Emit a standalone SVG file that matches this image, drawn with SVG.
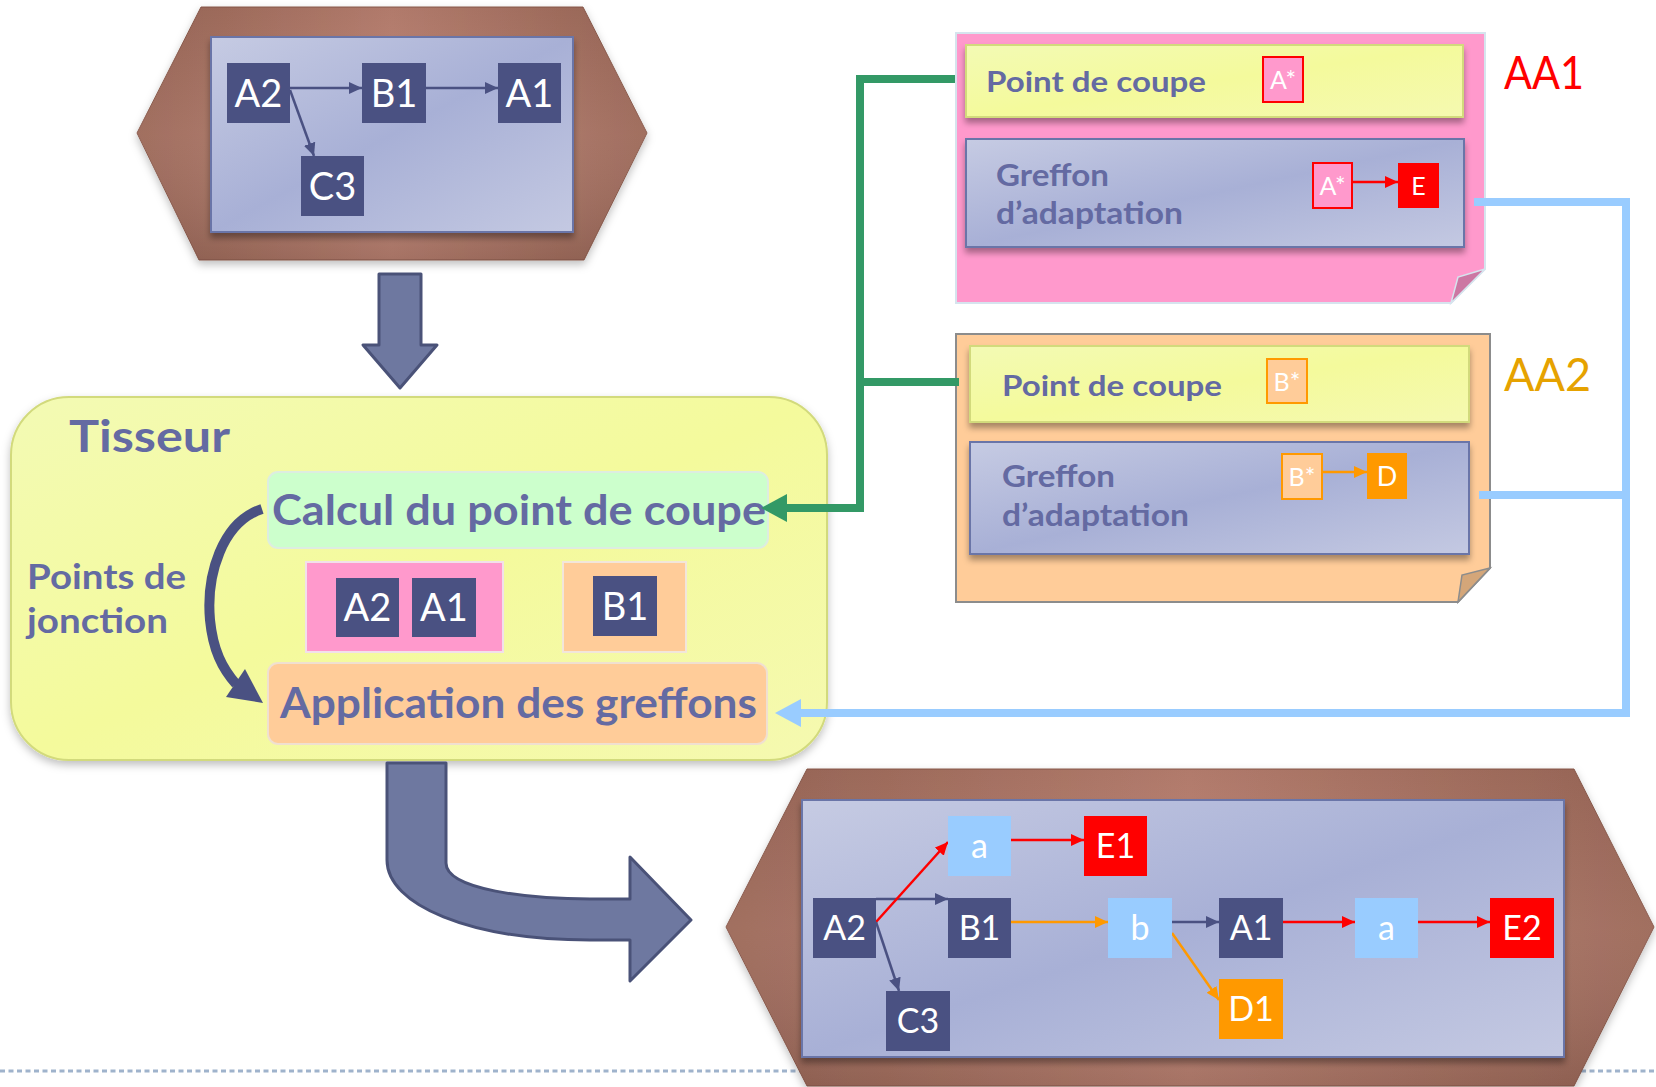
<svg xmlns="http://www.w3.org/2000/svg" width="1656" height="1087" viewBox="0 0 1656 1087">
  <defs>
    <linearGradient id="hexFill" x1="0" y1="0" x2="1" y2="0">
      <stop offset="0" stop-color="#9C6858"/>
      <stop offset="0.5" stop-color="#BC8272"/>
      <stop offset="1" stop-color="#9C6858"/>
    </linearGradient>
    <linearGradient id="hexShade" x1="0" y1="0" x2="0" y2="1">
      <stop offset="0" stop-color="#000" stop-opacity="0.06"/>
      <stop offset="0.5" stop-color="#fff" stop-opacity="0.05"/>
      <stop offset="1" stop-color="#000" stop-opacity="0.12"/>
    </linearGradient>
    <linearGradient id="panelFill" x1="0" y1="0" x2="1" y2="1">
      <stop offset="0" stop-color="#C6CBE3"/>
      <stop offset="0.5" stop-color="#A8B0D6"/>
      <stop offset="1" stop-color="#C4C9E2"/>
    </linearGradient>
    <linearGradient id="yellowFill" x1="0" y1="0" x2="1" y2="1">
      <stop offset="0" stop-color="#F3FAB4"/>
      <stop offset="0.5" stop-color="#F4FA9C"/>
      <stop offset="1" stop-color="#F5F9B0"/>
    </linearGradient>
    <filter id="shadow" x="-10%" y="-10%" width="120%" height="130%">
      <feDropShadow dx="0" dy="5" stdDeviation="3" flood-color="#000" flood-opacity="0.35"/>
    </filter>
    <filter id="softShadow" x="-10%" y="-10%" width="120%" height="130%">
      <feDropShadow dx="0" dy="4" stdDeviation="4" flood-color="#000" flood-opacity="0.25"/>
    </filter>
    <marker id="arrDark" markerUnits="userSpaceOnUse" markerWidth="14" markerHeight="14" refX="13" refY="7" orient="auto">
      <path d="M0,1 L13,7 L0,13 z" fill="#4A5182"/>
    </marker>
    <marker id="arrRed" markerUnits="userSpaceOnUse" markerWidth="14" markerHeight="14" refX="13" refY="7" orient="auto">
      <path d="M0,1 L13,7 L0,13 z" fill="#FF0000"/>
    </marker>
    <marker id="arrOrange" markerUnits="userSpaceOnUse" markerWidth="14" markerHeight="14" refX="13" refY="7" orient="auto">
      <path d="M0,1 L13,7 L0,13 z" fill="#FF9900"/>
    </marker>
  </defs>
  <style>
    .hex { fill: url(#hexFill); stroke: #8A5A4C; stroke-width: 1; }
    .hexshade { fill: url(#hexShade); }
    .panel { fill: url(#panelFill); stroke: #6A74A8; stroke-width: 2; }
    .nd { fill: #4A5182; }
    .lb { fill: #99CCFF; }
    .rd { fill: #FF0000; }
    .og { fill: #FF9900; }
    .nt { font-family: Lato, "Liberation Sans", sans-serif; fill: #fff; text-anchor: middle; }
    .big { font-size: 38px; }
    .small { font-size: 34px; }
    .lbl { font-family: Lato, "Liberation Sans", sans-serif; font-weight: bold; fill: #646AA2; }
    .edge { fill: none; stroke-width: 2.5; }
    .dk { stroke: #4A5182; marker-end: url(#arrDark); }
    .re { stroke: #FF0000; marker-end: url(#arrRed); }
    .or { stroke: #FF9900; marker-end: url(#arrOrange); }
    .ybox { fill: url(#yellowFill); stroke: #D2DA7C; stroke-width: 2; filter: url(#shadow); }
    .gbox { fill: url(#panelFill); stroke: #6A74A8; stroke-width: 2; filter: url(#shadow); }
    .fat { fill: #6E78A0; stroke: #4A5278; stroke-width: 3; stroke-linejoin: round; }
  </style>

  <rect width="1656" height="1087" fill="#fff"/>

  <!-- dotted footer rule -->
  <line x1="0" y1="1071" x2="1656" y2="1071" stroke="#9FB3CC" stroke-width="3" stroke-dasharray="5 3.5"/>

  <!-- input program -->
  <g id="program-in">
    <polygon class="hex" points="201,7 583,7 647,133 584,260 199,260 137,133" filter="url(#softShadow)"/>
    <polygon class="hexshade" points="201,7 583,7 647,133 584,260 199,260 137,133"/>
    <rect class="panel" x="211" y="37" width="362" height="195" filter="url(#shadow)"/>
    <rect class="nd" x="227" y="63" width="63" height="60"/>
    <text class="nt big" x="258.5" y="106.5">A2</text>
    <rect class="nd" x="362" y="63" width="64" height="60"/>
    <text class="nt big" x="394" y="106.5">B1</text>
    <rect class="nd" x="498" y="63" width="63" height="60"/>
    <text class="nt big" x="529.5" y="106.5">A1</text>
    <rect class="nd" x="301" y="156" width="63" height="60"/>
    <text class="nt big" x="332.5" y="199.5">C3</text>
    <line class="edge dk" x1="290" y1="88" x2="362" y2="88"/>
    <line class="edge dk" x1="426" y1="88" x2="498" y2="88"/>
    <line class="edge dk" x1="290" y1="90" x2="314" y2="156"/>
  </g>

  <!-- arrow into the weaver -->
  <g id="down-arrow">
    <polygon class="fat" points="379,274 421,274 421,345 437,345 400,388 363,345 379,345"/>
  </g>

  <!-- weaver -->
  <g id="tisseur">
    <rect x="11" y="397" width="816" height="363" rx="58" fill="url(#yellowFill)" stroke="#D2DA7C" stroke-width="2" filter="url(#softShadow)"/>
    <text class="lbl" x="69" y="452" font-size="44" textLength="161" lengthAdjust="spacingAndGlyphs">Tisseur</text>
    <text class="lbl" x="27" y="589" font-size="34" textLength="159" lengthAdjust="spacingAndGlyphs">Points de</text>
    <text class="lbl" x="27" y="633" font-size="34" textLength="141" lengthAdjust="spacingAndGlyphs">jonction</text>
  </g>

  <g id="calcul">
    <rect x="268" y="472" width="500" height="76" rx="10" fill="#CCFFCC" stroke="#DDEDE0" stroke-width="2"/>
    <text class="lbl" x="272" y="525" font-size="42" textLength="494" lengthAdjust="spacingAndGlyphs">Calcul du point de coupe</text>
  </g>

  <g id="jp-a">
    <rect x="306" y="562" width="197" height="90" fill="#FF99CC" stroke="#F2E0EA" stroke-width="2"/>
    <rect class="nd" x="336" y="578" width="63" height="59"/>
    <text class="nt big" x="367.5" y="621">A2</text>
    <rect class="nd" x="412" y="578" width="64" height="59"/>
    <text class="nt big" x="444" y="621">A1</text>
  </g>

  <g id="jp-b">
    <rect x="563" y="562" width="123" height="90" fill="#FFCC99" stroke="#F2E6DA" stroke-width="2"/>
    <rect class="nd" x="593" y="576" width="64" height="60"/>
    <text class="nt big" x="625" y="620">B1</text>
  </g>

  <g id="application">
    <rect x="268" y="663" width="499" height="81" rx="10" fill="#FFCC99" stroke="#F0E0D0" stroke-width="2"/>
    <text class="lbl" x="280" y="718" font-size="42" textLength="477" lengthAdjust="spacingAndGlyphs">Application des greffons</text>
  </g>

  <!-- aspect AA1 -->
  <g id="aa1">
    <polygon points="956,33 1485,33 1485,269 1451,303 956,303" fill="#FF99CC" stroke="#D6E4EE" stroke-width="2"/>
    <polygon points="1485,269 1458,277 1451,303" fill="#CC77A3" stroke="#D6E4EE" stroke-width="1.5"/>
    <rect class="ybox" x="966" y="45" width="497" height="72"/>
    <text class="lbl" x="986" y="92" font-size="29" textLength="220" lengthAdjust="spacingAndGlyphs">Point de coupe</text>
    <rect x="1263" y="57" width="40" height="45" fill="#FF99CC" stroke="#FF0000" stroke-width="2"/>
    <text class="nt" x="1283" y="89" font-size="25">A*</text>
    <rect class="gbox" x="966" y="139" width="498" height="108"/>
    <text class="lbl" x="996" y="186" font-size="30" textLength="113" lengthAdjust="spacingAndGlyphs">Greffon</text>
    <text class="lbl" x="996" y="224" font-size="30" textLength="187" lengthAdjust="spacingAndGlyphs">d’adaptation</text>
    <rect x="1313" y="163" width="39" height="45" fill="#FF99CC" stroke="#FF0000" stroke-width="2"/>
    <text class="nt" x="1332.5" y="195" font-size="25">A*</text>
    <rect class="rd" x="1398" y="163" width="41" height="45"/>
    <text class="nt" x="1418.5" y="195" font-size="25">E</text>
    <line class="edge re" x1="1352" y1="182" x2="1398" y2="182"/>
    <text x="1504" y="89" font-family="Lato, 'Liberation Sans', sans-serif" font-size="46" fill="#FF0000" textLength="80" lengthAdjust="spacingAndGlyphs">AA1</text>
  </g>

  <!-- aspect AA2 -->
  <g id="aa2">
    <polygon points="956,334 1490,334 1490,568 1458,602 956,602" fill="#FFCC99" stroke="#8C8C8C" stroke-width="2"/>
    <polygon points="1490,568 1462,575 1458,602" fill="#D4A679" stroke="#8C8C8C" stroke-width="1.5"/>
    <rect class="ybox" x="970" y="346" width="499" height="76"/>
    <text class="lbl" x="1002" y="396" font-size="29" textLength="220" lengthAdjust="spacingAndGlyphs">Point de coupe</text>
    <rect x="1267" y="359" width="40" height="44" fill="#FFCC99" stroke="#FF9900" stroke-width="2"/>
    <text class="nt" x="1287" y="391" font-size="25">B*</text>
    <rect class="gbox" x="970" y="442" width="499" height="112"/>
    <text class="lbl" x="1002" y="487" font-size="30" textLength="113" lengthAdjust="spacingAndGlyphs">Greffon</text>
    <text class="lbl" x="1002" y="526" font-size="30" textLength="187" lengthAdjust="spacingAndGlyphs">d’adaptation</text>
    <rect x="1282" y="454" width="40" height="45" fill="#FFCC99" stroke="#FF9900" stroke-width="2"/>
    <text class="nt" x="1302" y="486" font-size="25">B*</text>
    <rect class="og" x="1367" y="453" width="40" height="46"/>
    <text class="nt" x="1387" y="486" font-size="27">D</text>
    <line class="edge or" x1="1322" y1="472" x2="1367" y2="472"/>
    <text x="1504" y="391" font-family="Lato, 'Liberation Sans', sans-serif" font-size="46" fill="#E6A200" textLength="87" lengthAdjust="spacingAndGlyphs">AA2</text>
  </g>

  <!-- connectors between aspects and the weaver -->
  <g id="connectors">
    <path d="M955,79 H860 V508 H786" fill="none" stroke="#339966" stroke-width="8"/>
    <path d="M959,382 H860" fill="none" stroke="#339966" stroke-width="8"/>
    <polygon points="761,508 787,494 787,522" fill="#339966"/>
    <path d="M1474,202 H1626 V713 H800" fill="none" stroke="#99CCFF" stroke-width="8"/>
    <path d="M1479,495 H1630" fill="none" stroke="#99CCFF" stroke-width="8"/>
    <polygon points="775,713 801,699 801,727" fill="#99CCFF"/>
    <path d="M262,509 C222,522 206,575 210,620 C213,650 222,668 236,684" fill="none" stroke="#4A5182" stroke-width="10"/>
    <polygon points="226,697 245,669 263,703" fill="#4A5182"/>
  </g>

  <!-- woven result arrow -->
  <g id="bend-arrow">
    <path class="fat" d="M387,763 H446 V863 C446,890 530,899 590,899 H630 V857 L691,920 L630,981 V940 H590 C470,940 387,905 387,860 Z"/>
  </g>

  <!-- woven program -->
  <g id="program-out">
    <polygon class="hex" points="807,769 1574,769 1654,927 1574,1086 807,1086 726,927" filter="url(#softShadow)"/>
    <polygon class="hexshade" points="807,769 1574,769 1654,927 1574,1086 807,1086 726,927"/>
    <rect class="panel" x="802" y="800" width="762" height="257" filter="url(#shadow)"/>

    <line class="edge dk" x1="876" y1="899" x2="948" y2="899"/>
    <line class="edge re" x1="876" y1="922" x2="948" y2="842"/>
    <line class="edge dk" x1="876" y1="922" x2="899" y2="991"/>
    <line class="edge re" x1="1011" y1="840" x2="1084" y2="840"/>
    <line class="edge or" x1="1011" y1="922" x2="1108" y2="922"/>
    <line class="edge dk" x1="1172" y1="922" x2="1219" y2="922"/>
    <line class="edge or" x1="1172" y1="933" x2="1219" y2="1000"/>
    <line class="edge re" x1="1283" y1="922" x2="1355" y2="922"/>
    <line class="edge re" x1="1418" y1="922" x2="1490" y2="922"/>

    <rect class="lb" x="948" y="816" width="63" height="60"/>
    <text class="nt small" x="979.5" y="858">a</text>
    <rect class="rd" x="1084" y="816" width="63" height="60"/>
    <text class="nt small" x="1115.5" y="858">E1</text>
    <rect class="nd" x="813" y="898" width="63" height="60"/>
    <text class="nt small" x="844.5" y="940">A2</text>
    <rect class="nd" x="948" y="898" width="63" height="60"/>
    <text class="nt small" x="979.5" y="940">B1</text>
    <rect class="lb" x="1108" y="898" width="64" height="60"/>
    <text class="nt small" x="1140" y="940">b</text>
    <rect class="nd" x="1219" y="898" width="64" height="60"/>
    <text class="nt small" x="1251" y="940">A1</text>
    <rect class="lb" x="1355" y="898" width="63" height="60"/>
    <text class="nt small" x="1386.5" y="940">a</text>
    <rect class="rd" x="1490" y="898" width="64" height="60"/>
    <text class="nt small" x="1522" y="940">E2</text>
    <rect class="nd" x="886" y="991" width="64" height="60"/>
    <text class="nt small" x="918" y="1033">C3</text>
    <rect class="og" x="1219" y="979" width="64" height="60"/>
    <text class="nt small" x="1251" y="1021">D1</text>
  </g>
</svg>
